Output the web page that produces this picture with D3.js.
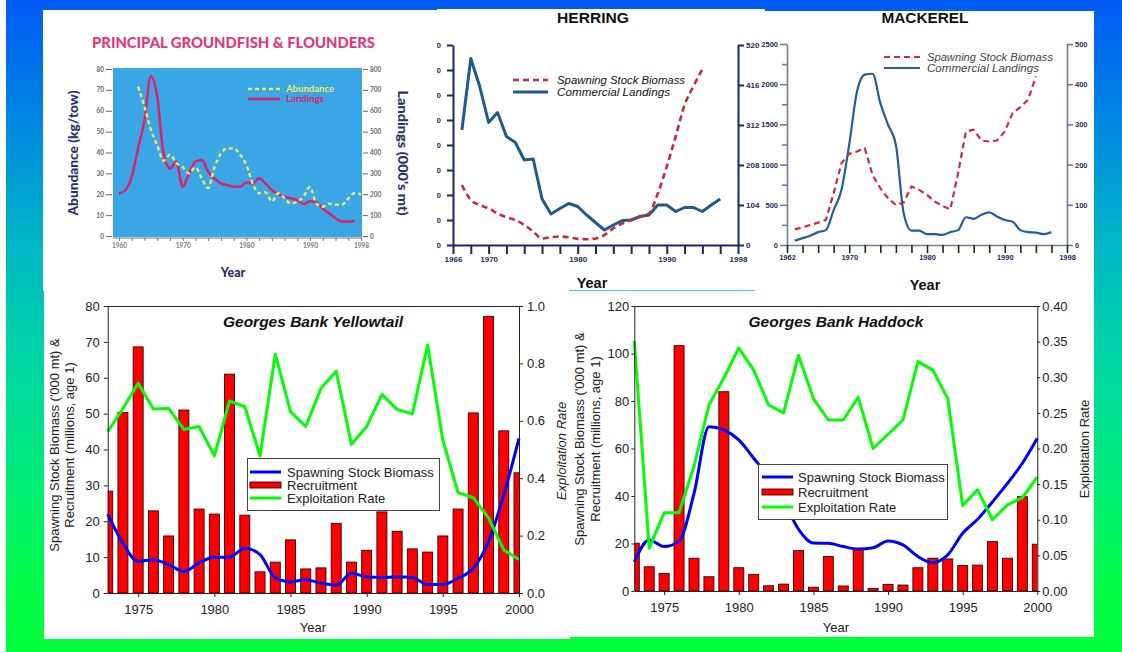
<!DOCTYPE html>
<html><head><meta charset="utf-8">
<script src="https://cdn.jsdelivr.net/npm/d3@7"></script>
<style>html,body{margin:0;padding:0;background:#fff}svg{display:block}</style>
</head><body>
<svg id="c" width="1122" height="652"></svg>
<script>
// ---------------- DATA ----------------
// Principal groundfish & flounders
const gfAbundYears = [1963,1964,1965,1966,1967,1968,1969,1970,1971,1972,1973,1974,1975,1976,1977,1978,1979,1980,1981,1982,1983,1984,1985,1986,1987,1988,1989,1990,1991,1992,1993,1994,1995,1996,1997,1998];
const gfAbund = [71.5,62,51,43.5,36,39,35,33,30,33,27.5,23,33,39.5,42,42,39,34,25,20.5,21,16.5,20.5,18,15.5,16.5,19,23.5,15.5,14,15.5,15,15,18,20.5,20];
const gfLandYears = [1960,1961,1962,1963,1964,1965,1966,1967,1968,1969,1970,1971,1972,1973,1974,1975,1976,1977,1978,1979,1980,1981,1982,1983,1984,1985,1986,1987,1988,1989,1990,1991,1992,1993,1994,1995,1996,1997];
const gfLand = [204,220,284,420,555,766,667,395,324,356,236,300,356,364,308,276,252,244,236,236,257,252,276,252,220,201,188,180,172,153,167,160,132,108,85,69,69,72];
const gfLeftTicks = [0,10,20,30,40,50,60,70,80];
const gfRightTicks = [0,100,200,300,400,500,600,700,800];
const gfXTicks = [1960,1962,1964,1966,1968,1970,1972,1974,1976,1978,1980,1982,1984,1986,1988,1990,1992,1994,1996,1998];
const gfXLabels = [1960,1970,1980,1990,1998];

// Herring
const hrYears = [1967,1968,1969,1970,1971,1972,1973,1974,1975,1976,1977,1978,1979,1980,1981,1982,1983,1984,1985,1986,1987,1988,1989,1990,1991,1992,1993,1994,1995,1996];
const hrLand = [230,373,317,245,265,217,205,170,172,92,62,73,83,77,60,45,30,40,49,50,57,60,80,80,67,75,75,67,80,92];
const hrSSBYears = [1967,1968,1969,1970,1971,1972,1973,1974,1975,1976,1977,1978,1979,1980,1981,1982,1983,1984,1985,1986,1987,1988,1989,1990,1991,1992,1993,1994];
const hrSSB = [156,117,104,95,82,72,65,52,35,17,20,22,20,16,15,17,26,43,56,65,74,82,134,204,282,364,413,457];
const hrLeftTicks = [0,50,100,150,200,250,300,350,400];
const hrRightTicks = [0,104,208,312,416,520];
const hrXTicks = [1966,1968,1970,1972,1974,1976,1978,1980,1982,1984,1986,1988,1990,1992,1994,1996,1998];
const hrXLabels = [1966,1970,1980,1990,1998];

// Mackerel
const mkLandYears = [1963,1964,1965,1966,1967,1968,1969,1970,1971,1972,1973,1974,1975,1976,1977,1978,1979,1980,1981,1982,1983,1984,1985,1986,1987,1988,1989,1990,1991,1992,1993,1994,1995,1996];
const mkLand = [11,17,23,32,37,87,137,250,382,424,426,353,299,249,79,36,36,27,27,25,32,37,69,65,75,81,71,62,58,37,32,31,27,32];
const mkSSBYears = [1963,1964,1965,1966,1967,1968,1969,1970,1971,1972,1973,1974,1975,1976,1977,1978,1979,1980,1981,1982,1983,1984,1985,1986,1987,1988,1989,1990,1991,1992,1993,1994];
const mkSSB = [195,220,249,278,311,644,1017,1134,1163,1204,872,706,581,498,527,727,685,623,540,486,444,893,1412,1433,1300,1287,1300,1412,1640,1715,1807,2097];
const mkLeftMajor = [0,500,1000,1500,2000,2500];
const mkLeftMinor = [250,750,1250,1750,2250];
const mkRightTicks = [0,100,200,300,400,500];
const mkXTicks = [1962,1964,1966,1968,1970,1972,1974,1976,1978,1980,1982,1984,1986,1988,1990,1992,1994,1996,1998];
const mkXLabels = [1962,1970,1980,1990,1998];

// Georges Bank (shared years)
const gbYears = [1973,1974,1975,1976,1977,1978,1979,1980,1981,1982,1983,1984,1985,1986,1987,1988,1989,1990,1991,1992,1993,1994,1995,1996,1997,1998,1999,2000];
const gbXTicks = [1975,1980,1985,1990,1995,2000];
// Yellowtail
const ytRec = [28.4,50.3,68.6,22.9,15.9,51.0,23.4,22.0,61.0,21.7,5.9,8.6,14.8,6.7,7.0,19.4,8.6,11.9,22.6,17.2,12.3,11.4,15.9,23.4,50.2,77.1,45.2,33.5];
const ytSSB = [22,13.9,8.8,9.3,7.9,6.0,8.4,10,10,12.5,10.7,4.2,3.1,3.7,2.7,2.2,5.5,4.5,4.3,4.5,4.3,2.4,2.4,4.1,6.9,14.3,27.3,43.1];
const ytExp = [0.562,0.643,0.731,0.641,0.643,0.570,0.580,0.478,0.669,0.649,0.478,0.832,0.632,0.58,0.713,0.773,0.518,0.58,0.692,0.64,0.624,0.864,0.533,0.35,0.332,0.262,0.15,0.117];
const ytLeftTicks = [0,10,20,30,40,50,60,70,80];
const ytRightTicks = [0,0.2,0.4,0.6,0.8,1.0];
// Haddock
const hdRec = [20.1,10.2,7.4,103.3,13.8,6.0,83.9,9.8,7.0,2.2,2.9,17.0,1.6,14.5,2.1,17.3,1.1,2.8,2.5,9.8,13.8,13.5,10.7,10.9,20.8,13.8,39.7,19.7];
const hdSSB = [12.3,21.5,18.7,21,41.1,69.2,67.8,63.6,55.9,48,38,26,20.2,20.1,18.7,17.7,18.2,21.1,19.4,14.5,11.9,15.2,24.3,30.2,37.6,45.3,53.8,64.3];
const hdExp = [0.351,0.060,0.110,0.110,0.175,0.261,0.299,0.341,0.310,0.261,0.250,0.331,0.270,0.240,0.240,0.272,0.200,0.220,0.240,0.322,0.310,0.270,0.120,0.142,0.100,0.121,0.131,0.160];
const hdLeftTicks = [0,20,40,60,80,100,120];
const hdRightTicks = [0,0.05,0.10,0.15,0.20,0.25,0.30,0.35,0.40];

// ---------------- DRAWING ----------------
const svg = d3.select('#c');
const defs = svg.append('defs');
const ARIAL = '"Liberation Sans", Arial, Helvetica, sans-serif';
const intFmt = d3.format('d');

const grad = defs.append('linearGradient').attr('id','bg').attr('x1',0).attr('y1',0).attr('x2',0).attr('y2',1);
[[0,'#005af2'],[0.18,'#0086e2'],[0.38,'#00b8c4'],[0.55,'#00d6a6'],[0.75,'#00ee74'],[0.9,'#00fc48'],[1,'#00ff3c']]
  .forEach(s => grad.append('stop').attr('offset',s[0]).attr('stop-color',s[1]));
svg.append('rect').attr('width',1122).attr('height',652).attr('fill','url(#bg)');
svg.append('rect').attr('x',0).attr('y',0).attr('width',6).attr('height',652).attr('fill','#fff');

// white panels
[[43,10,394,281],[437,9,328,282],[765,11,329,280],[44,289,526,350],[570,289,524,348]]
  .forEach(r => svg.append('rect').attr('x',r[0]).attr('y',r[1]).attr('width',r[2]).attr('height',r[3]).attr('fill','#fff'));

function styleAxis(g, color, sw, fs, fw, fam) {
  g.selectAll('path,line').attr('stroke', color).attr('stroke-width', sw);
  g.selectAll('text').attr('fill', color).attr('font-size', fs).attr('font-weight', fw).attr('font-family', fam);
}
function pairs(xs, ys) { return d3.zip(xs, ys); }

// ===== Groundfish panel =====
(function(){
  const g = svg.append('g');
  const FF = 'Lato, "Open Sans", "DejaVu Sans", sans-serif';
  g.append('text').attr('x',92).attr('y',47.5).text('PRINCIPAL GROUNDFISH & FLOUNDERS')
    .attr('font-family',FF).attr('font-weight',900).attr('font-size',14.5).attr('fill','#e2387c')
    .attr('textLength',283).attr('lengthAdjust','spacingAndGlyphs');
  g.append('rect').attr('x',113).attr('y',68).attr('width',249).attr('height',169).attr('fill','#3ba6e6');
  const x = d3.scaleLinear().domain([1960,1998]).range([119,361]);
  const yL = d3.scaleLinear().domain([0,80]).range([236,69]);
  const yR = d3.scaleLinear().domain([0,800]).range([236,69]);
  const aL = g.append('g').attr('transform','translate(112,0)')
    .call(d3.axisLeft(yL).tickValues(gfLeftTicks).tickSize(6).tickPadding(2).tickSizeOuter(0));
  aL.select('.domain').remove();
  styleAxis(aL,'#666',1,6.5,'bold',FF);
  const aR = g.append('g').attr('transform','translate(363,0)')
    .call(d3.axisRight(yR).tickValues(gfRightTicks).tickSize(5).tickPadding(2).tickSizeOuter(0));
  aR.select('.domain').remove();
  styleAxis(aR,'#666',1,6.5,'bold',FF);
  const aB = g.append('g').attr('transform','translate(0,238)')
    .call(d3.axisBottom(x).tickValues(gfXTicks).tickSize(3).tickPadding(2).tickSizeOuter(0)
      .tickFormat(d => gfXLabels.includes(d) ? String(d) : ''));
  styleAxis(aB,'#777',1,6.5,'bold',FF);
  aB.select('.domain').attr('d','M113,0H362');

  g.append('path').datum(pairs(gfLandYears,gfLand))
    .attr('d', d3.line().x(d=>x(d[0])).y(d=>yR(d[1])).curve(d3.curveMonotoneX))
    .attr('fill','none').attr('stroke','#d8246c').attr('stroke-width',2.6).attr('stroke-linejoin','round');
  g.append('path').datum(pairs(gfAbundYears,gfAbund))
    .attr('d', d3.line().x(d=>x(d[0])).y(d=>yL(d[1])).curve(d3.curveMonotoneX))
    .attr('fill','none').attr('stroke','#e6ee5e').attr('stroke-width',2.4).attr('stroke-dasharray','4,3');

  // legend
  g.append('line').attr('x1',248).attr('x2',280).attr('y1',89).attr('y2',89)
    .attr('stroke','#e6ee5e').attr('stroke-width',2.4).attr('stroke-dasharray','4,3');
  g.append('text').attr('x',286).attr('y',92).text('Abundance').attr('font-family',FF).attr('font-weight','bold')
    .attr('font-size',8.5).attr('fill','#e6ee5e').attr('textLength',48).attr('lengthAdjust','spacingAndGlyphs');
  g.append('line').attr('x1',248).attr('x2',280).attr('y1',99).attr('y2',99)
    .attr('stroke','#d8246c').attr('stroke-width',2.6);
  g.append('text').attr('x',286).attr('y',102).text('Landings').attr('font-family',FF).attr('font-weight','bold')
    .attr('font-size',8.5).attr('fill','#d8246c').attr('textLength',38).attr('lengthAdjust','spacingAndGlyphs');

  g.append('text').attr('transform','translate(77.5,153) rotate(-90)').attr('text-anchor','middle')
    .text('Abundance (kg/tow)').attr('font-family',FF).attr('font-weight',900).attr('font-size',12.5)
    .attr('fill','#2b2f6e').attr('textLength',125).attr('lengthAdjust','spacingAndGlyphs');
  g.append('text').attr('transform','translate(397.5,153) rotate(90)').attr('text-anchor','middle')
    .text("Landings (000's mt)").attr('font-family',FF).attr('font-weight',900).attr('font-size',12.5)
    .attr('fill','#2b2f6e').attr('textLength',125).attr('lengthAdjust','spacingAndGlyphs');
  g.append('text').attr('x',233).attr('y',277).attr('text-anchor','middle').text('Year')
    .attr('font-family',FF).attr('font-weight',900).attr('font-size',12.5).attr('fill','#2b2f6e');
})();

// ===== Herring panel =====
(function(){
  defs.append('clipPath').attr('id','clipH').append('rect').attr('x',437).attr('y',0).attr('width',323).attr('height',300);
  const g = svg.append('g').attr('clip-path','url(#clipH)');
  const NAVY = '#1b2a5c';
  g.append('text').attr('x',593).attr('y',22.5).attr('text-anchor','middle').text('HERRING')
    .attr('font-family',ARIAL).attr('font-weight','bold').attr('font-size',15.5).attr('fill','#111')
    .attr('textLength',72).attr('lengthAdjust','spacingAndGlyphs');
  const x = d3.scaleLinear().domain([1966,1998]).range([453,738]);
  const yL = d3.scaleLinear().domain([0,400]).range([245,45]);
  const yR = d3.scaleLinear().domain([0,520]).range([245,45]);
  const aL = g.append('g').attr('transform','translate(453,0)')
    .call(d3.axisLeft(yL).tickValues(hrLeftTicks).tickSize(6).tickPadding(6).tickSizeOuter(0).tickFormat(intFmt));
  styleAxis(aL,NAVY,2,8,'bold',ARIAL);
  const aR = g.append('g').attr('transform','translate(738,0)')
    .call(d3.axisRight(yR).tickValues(hrRightTicks).tickSize(6).tickPadding(2).tickSizeOuter(0).tickFormat(intFmt));
  styleAxis(aR,NAVY,2,8,'bold',ARIAL);
  const aB = g.append('g').attr('transform','translate(0,245)')
    .call(d3.axisBottom(x).tickValues(hrXTicks).tickSize(9).tickPadding(2).tickSizeOuter(0)
      .tickFormat(d => hrXLabels.includes(d) ? String(d) : ''));
  styleAxis(aB,NAVY,2,8,'bold',ARIAL);

  g.append('path').datum(pairs(hrYears,hrLand))
    .attr('d', d3.line().x(d=>x(d[0])).y(d=>yL(d[1])))
    .attr('fill','none').attr('stroke','#1e5a8c').attr('stroke-width',3).attr('stroke-linejoin','round');
  g.append('path').datum(pairs(hrSSBYears,hrSSB))
    .attr('d', d3.line().x(d=>x(d[0])).y(d=>yR(d[1])).curve(d3.curveMonotoneX))
    .attr('fill','none').attr('stroke','#c8283c').attr('stroke-width',2.6).attr('stroke-dasharray','6,4');

  g.append('line').attr('x1',513).attr('x2',548).attr('y1',80).attr('y2',80)
    .attr('stroke','#c8283c').attr('stroke-width',2.6).attr('stroke-dasharray','6,4');
  g.append('text').attr('x',557).attr('y',84).text('Spawning Stock Biomass').attr('font-family',ARIAL)
    .attr('font-style','italic').attr('font-size',11.3).attr('fill','#111')
    .attr('textLength',128).attr('lengthAdjust','spacingAndGlyphs');
  g.append('line').attr('x1',513).attr('x2',548).attr('y1',92).attr('y2',92)
    .attr('stroke','#1e5a8c').attr('stroke-width',3);
  g.append('text').attr('x',557).attr('y',96).text('Commercial Landings').attr('font-family',ARIAL)
    .attr('font-style','italic').attr('font-size',11.3).attr('fill','#111')
    .attr('textLength',113).attr('lengthAdjust','spacingAndGlyphs');
  g.append('text').attr('x',592).attr('y',288).attr('text-anchor','middle').text('Year')
    .attr('font-family',ARIAL).attr('font-weight','bold').attr('font-size',14.5).attr('fill','#111');
  g.append('line').attr('x1',569).attr('x2',755).attr('y1',290.5).attr('y2',290.5).attr('stroke','#3cd6de').attr('stroke-width',1);
})();

// ===== Mackerel panel =====
(function(){
  defs.append('clipPath').attr('id','clipM').append('rect').attr('x',760).attr('y',0).attr('width',334).attr('height',300);
  const g = svg.append('g').attr('clip-path','url(#clipM)');
  const AX = '#6d7c9c', NAVY = '#1b2a5c';
  g.append('text').attr('x',925).attr('y',22.5).attr('text-anchor','middle').text('MACKEREL')
    .attr('font-family',ARIAL).attr('font-weight','bold').attr('font-size',15.5).attr('fill','#111')
    .attr('textLength',87).attr('lengthAdjust','spacingAndGlyphs');
  const x = d3.scaleLinear().domain([1962,1998]).range([787,1067]);
  const yL = d3.scaleLinear().domain([0,2500]).range([245,44]);
  const yR = d3.scaleLinear().domain([0,500]).range([245,44]);
  const aL = g.append('g').attr('transform','translate(787,0)')
    .call(d3.axisLeft(yL).tickValues(mkLeftMajor).tickSize(7).tickPadding(2).tickSizeOuter(0).tickFormat(intFmt));
  styleAxis(aL,AX,1.6,7.5,'bold',ARIAL); aL.selectAll('text').attr('fill',NAVY);
  const aLm = g.append('g').attr('transform','translate(787,0)')
    .call(d3.axisLeft(yL).tickValues(mkLeftMinor).tickSize(5).tickFormat(''));
  aLm.select('.domain').remove(); styleAxis(aLm,AX,1.6,7,'bold',ARIAL);
  const aR = g.append('g').attr('transform','translate(1067,0)')
    .call(d3.axisRight(yR).tickValues(mkRightTicks).tickSize(6).tickPadding(2).tickSizeOuter(0).tickFormat(intFmt));
  styleAxis(aR,AX,1.6,7.5,'bold',ARIAL); aR.selectAll('text').attr('fill',NAVY);
  const aB = g.append('g').attr('transform','translate(0,245)')
    .call(d3.axisBottom(x).tickValues(mkXTicks).tickSize(8).tickPadding(2).tickSizeOuter(0)
      .tickFormat(d => mkXLabels.includes(d) ? String(d) : ''));
  styleAxis(aB,AX,1.6,7.5,'bold',ARIAL); aB.selectAll('text').attr('fill',NAVY);
  aB.selectAll('.tick line').attr('stroke','#223');

  g.append('path').datum(pairs(mkLandYears,mkLand))
    .attr('d', d3.line().x(d=>x(d[0])).y(d=>yR(d[1])).curve(d3.curveMonotoneX))
    .attr('fill','none').attr('stroke','#1f5f9f').attr('stroke-width',2.2).attr('stroke-linejoin','round');
  g.append('path').datum(pairs(mkSSBYears,mkSSB))
    .attr('d', d3.line().x(d=>x(d[0])).y(d=>yL(d[1])))
    .attr('fill','none').attr('stroke','#d02a40').attr('stroke-width',2.2).attr('stroke-dasharray','6,4');

  g.append('line').attr('x1',884).attr('x2',920).attr('y1',57).attr('y2',57)
    .attr('stroke','#d02a40').attr('stroke-width',2.2).attr('stroke-dasharray','6,4');
  g.append('text').attr('x',927).attr('y',61).text('Spawning Stock Biomass').attr('font-family',ARIAL)
    .attr('font-style','italic').attr('font-size',11.2).attr('fill','#444')
    .attr('textLength',126).attr('lengthAdjust','spacingAndGlyphs');
  g.append('line').attr('x1',884).attr('x2',920).attr('y1',68).attr('y2',68)
    .attr('stroke','#1f5f9f').attr('stroke-width',2.2);
  g.append('text').attr('x',927).attr('y',72).text('Commercial Landings').attr('font-family',ARIAL)
    .attr('font-style','italic').attr('font-size',11.2).attr('fill','#444')
    .attr('textLength',112).attr('lengthAdjust','spacingAndGlyphs');
  g.append('text').attr('x',925).attr('y',290).attr('text-anchor','middle').text('Year')
    .attr('font-family',ARIAL).attr('font-weight','bold').attr('font-size',14.5).attr('fill','#111');
})();

// ===== Georges Bank panels =====
function bottomPanel(o) {
  const g = svg.append('g');
  const x = d3.scaleLinear().domain([gbYears[0], gbYears[gbYears.length-1]]).range([o.x0, o.x1]);
  const yL = d3.scaleLinear().domain([0, o.leftMax]).range([o.yBot, o.yTop]);
  const yR = d3.scaleLinear().domain([0, o.rightMax]).range([o.yBot, o.yTop]);
  const cid = 'clip' + o.id;
  defs.append('clipPath').attr('id',cid).append('rect')
    .attr('x',o.x0).attr('y',o.yTop).attr('width',o.x1-o.x0).attr('height',o.yBot-o.yTop);
  const bw = 10;
  g.append('g').attr('clip-path',`url(#${cid})`).selectAll('rect').data(pairs(gbYears,o.rec)).join('rect')
    .attr('x', d => x(d[0]) - bw/2).attr('y', d => yL(d[1]))
    .attr('width', bw).attr('height', d => yL(0) - yL(d[1]))
    .attr('fill','#ff0000').attr('stroke','#3a0000').attr('stroke-width',0.9);
  g.append('path').datum(pairs(gbYears,o.ssb))
    .attr('d', d3.line().x(d=>x(d[0])).y(d=>yL(d[1])).curve(d3.curveMonotoneX))
    .attr('fill','none').attr('stroke','#0000ff').attr('stroke-width',3).attr('stroke-linejoin','round');
  g.append('path').datum(pairs(gbYears,o.exp))
    .attr('d', d3.line().x(d=>x(d[0])).y(d=>yR(d[1])))
    .attr('fill','none').attr('stroke','#00ff00').attr('stroke-width',3).attr('stroke-linejoin','round');

  // frame + axes
  g.append('line').attr('x1',o.x0).attr('x2',o.x1).attr('y1',o.yTop+0.5).attr('y2',o.yTop+0.5).attr('stroke','#222');
  const aL = g.append('g').attr('transform',`translate(${o.x0},0)`)
    .call(d3.axisLeft(yL).tickValues(o.leftTicks).tickSize(o.tick).tickPadding(o.pad).tickSizeOuter(0));
  styleAxis(aL,'#222',1,13,'normal',ARIAL);
  const aR = g.append('g').attr('transform',`translate(${o.x1},0)`)
    .call(d3.axisRight(yR).tickValues(o.rightTicks).tickSize(o.tick).tickPadding(o.pad).tickSizeOuter(0)
      .tickFormat(d3.format(o.rfmt)));
  styleAxis(aR,'#222',1,13,'normal',ARIAL);
  const aB = g.append('g').attr('transform',`translate(0,${o.yBot})`)
    .call(d3.axisBottom(x).tickValues(gbXTicks).tickSize(4).tickPadding(8).tickSizeOuter(0).tickFormat(d3.format('d')));
  styleAxis(aB,'#222',1,13,'normal',ARIAL);

  // titles
  g.append('text').attr('x',o.titleX).attr('y',326.5).attr('text-anchor','middle').text(o.title)
    .attr('font-family',ARIAL).attr('font-weight','bold').attr('font-style','italic').attr('font-size',15.5).attr('fill','#111');
  g.append('text').attr('transform',`translate(${o.lab1X},${o.labY}) rotate(-90)`).attr('text-anchor','middle')
    .text("Spawning Stock Biomass ('000 mt) &").attr('font-family',ARIAL).attr('font-size',13).attr('fill','#222');
  g.append('text').attr('transform',`translate(${o.lab2X},${o.labY}) rotate(-90)`).attr('text-anchor','middle')
    .text('Recruitment (millions, age 1)').attr('font-family',ARIAL).attr('font-size',13).attr('fill','#222');
  g.append('text').attr('transform',`translate(${o.rlabX},${o.rlabY}) rotate(-90)`).attr('text-anchor','middle')
    .text('Exploitation Rate').attr('font-family',ARIAL).attr('font-size',13).attr('fill','#222')
    .attr('font-style', o.rItalic ? 'italic' : 'normal');
  g.append('text').attr('x',o.titleX).attr('y',632).attr('text-anchor','middle').text('Year')
    .attr('font-family',ARIAL).attr('font-size',13).attr('fill','#222');

  // legend
  const L = o.legend;
  g.append('rect').attr('x',L.x+0.5).attr('y',L.y+0.5).attr('width',L.w).attr('height',L.h)
    .attr('fill','#fff').attr('stroke','#444').attr('stroke-width',1);
  const items = [['Spawning Stock Biomass','line','#0000ff'],['Recruitment','bar','#ff0000'],['Exploitation Rate','line','#00ff00']];
  items.forEach((it,i) => {
    const yy = L.rows[i];
    if (it[1] === 'line') {
      g.append('line').attr('x1',L.lx0).attr('x2',L.lx1).attr('y1',yy).attr('y2',yy).attr('stroke',it[2]).attr('stroke-width',3);
    } else {
      g.append('rect').attr('x',L.lx0).attr('y',yy-3).attr('width',L.lx1-L.lx0).attr('height',6)
        .attr('fill',it[2]).attr('stroke','#3a0000').attr('stroke-width',0.9);
    }
    g.append('text').attr('x',L.tx).attr('y',yy+4.5).text(it[0]).attr('font-family',ARIAL).attr('font-size',13).attr('fill','#222');
  });
}

bottomPanel({id:'yt', x0:107.7, x1:519, yTop:306, yBot:593, leftMax:80, rightMax:1,
  leftTicks:ytLeftTicks, rightTicks:ytRightTicks, rfmt:'.1f', tick:4, pad:4,
  rec:ytRec, ssb:ytSSB, exp:ytExp, title:'Georges Bank Yellowtail', titleX:313,
  lab1X:59, lab2X:74, labY:445, rlabX:566, rlabY:451, rItalic:true,
  legend:{x:247, y:458, w:192, h:52, rows:[472,485,498], lx0:250, lx1:281, tx:287}});

bottomPanel({id:'hd', x0:634.3, x1:1037.3, yTop:306, yBot:591, leftMax:120, rightMax:0.4,
  leftTicks:hdLeftTicks, rightTicks:hdRightTicks, rfmt:'.2f', tick:3, pad:2,
  rec:hdRec, ssb:hdSSB, exp:hdExp, title:'Georges Bank Haddock', titleX:836,
  lab1X:584, lab2X:600, labY:439, rlabX:1089, rlabY:449, rItalic:false,
  legend:{x:758, y:464, w:189, h:55, rows:[477,492,507], lx0:762, lx1:793, tx:798}});
</script>
</body></html>
